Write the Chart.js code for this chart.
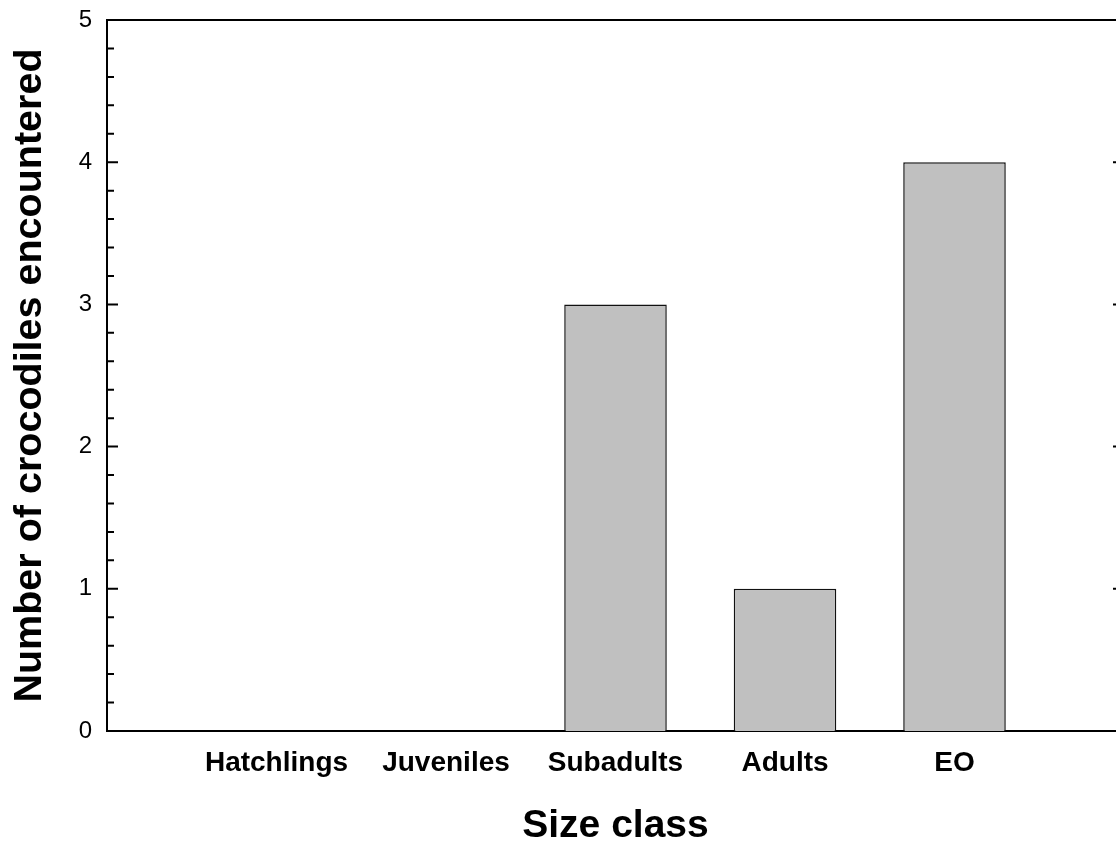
<!DOCTYPE html>
<html>
<head>
<meta charset="utf-8">
<script src="https://cdn.jsdelivr.net/npm/chart.js@4.4.1/dist/chart.umd.min.js"></script>
<style>
html,body{margin:0;padding:0;background:#fff;overflow:hidden;width:1116px;height:848px}
#wrap{width:1116px;height:848px;overflow:hidden;position:relative}
canvas{position:absolute;left:0;top:0}
</style>
</head>
<body>
<div id="wrap"><canvas id="c" width="1140" height="848" style="width:1140px;height:848px"></canvas></div>
<script>
const categories = ['Hatchlings', 'Juveniles', 'Subadults', 'Adults', 'EO'];
const counts = [0, 0, 3, 1, 4];
const yMin = 0, yMax = 5, yStep = 1, yMinorStep = 0.2;
const xTitle = 'Size class';
const yTitle = 'Number of crocodiles encountered';

const FONT = '"Liberation Sans", Arial, Helvetica, sans-serif';

const framePlugin = {
  id: 'frame',
  afterDatasetsDraw(chart) {
    const {ctx, chartArea: a, scales: {y}} = chart;
    ctx.save();
    ctx.strokeStyle = '#000';
    ctx.lineWidth = 2;
    ctx.beginPath();
    ctx.moveTo(a.left - 1, a.top);
    ctx.lineTo(a.right + 1, a.top);
    ctx.moveTo(a.right, a.top);
    ctx.lineTo(a.right, a.bottom);
    ctx.stroke();
    const n = Math.round((yMax - yMin) / yMinorStep);
    const perMajor = Math.round(yStep / yMinorStep);
    for (let i = 1; i < n; i++) {
      const v = yMin + i * yMinorStep;
      const p = y.getPixelForValue(v);
      const len = (i % perMajor === 0) ? 11 : 7;
      ctx.beginPath();
      ctx.moveTo(a.left, p);
      ctx.lineTo(a.left + len, p);
      ctx.moveTo(a.right, p);
      ctx.lineTo(a.right - len, p);
      ctx.stroke();
    }
    ctx.restore();
  }
};

new Chart(document.getElementById('c'), {
  type: 'bar',
  data: {
    datasets: [{
      data: categories.map((c, i) => ({x: i + 1, y: counts[i]})),
      backgroundColor: '#c0c0c0',
      borderColor: '#111',
      borderWidth: 1.5,
      categoryPercentage: 1,
      barPercentage: 0.605
    }]
  },
  options: {
    responsive: false,
    animation: false,
    events: [],
    layout: {padding: {left: 0, top: 20, right: 16, bottom: 0}},
    plugins: {legend: {display: false}, tooltip: {enabled: false}},
    scales: {
      x: {
        type: 'linear',
        offset: false,
        min: 0,
        max: categories.length + 1,
        grid: {display: false, drawTicks: false, offset: false},
        border: {display: true, width: 2, color: '#000'},
        ticks: {
          stepSize: 1,
          autoSkip: false,
          maxRotation: 0,
          padding: 15,
          color: '#000',
          font: {family: FONT, size: 28, weight: 'bold'},
          callback: (v) => categories[v - 1] !== undefined ? categories[v - 1] : ''
        },
        title: {
          display: true,
          text: xTitle,
          color: '#000',
          font: {family: FONT, size: 39, weight: 'bold', lineHeight: 1.1},
          padding: {top: 0, bottom: 0}
        },
        afterFit(s) { s.height = 117; s.paddingLeft = 0; s.paddingRight = 0; }
      },
      y: {
        min: yMin,
        max: yMax,
        grid: {display: false, drawTicks: false},
        border: {display: true, width: 2, color: '#000'},
        ticks: {
          stepSize: yStep,
          padding: 15,
          color: '#000',
          font: {family: FONT, size: 24}
        },
        title: {
          display: true,
          text: yTitle,
          color: '#000',
          font: {family: FONT, size: 39.5, weight: 'bold'},
          padding: {top: 6, bottom: 0}
        },
        afterFit(s) { s.width = 107; s.paddingTop = 0; s.paddingBottom = 0; }
      }
    }
  },
  plugins: [framePlugin]
});
</script>
</body>
</html>
